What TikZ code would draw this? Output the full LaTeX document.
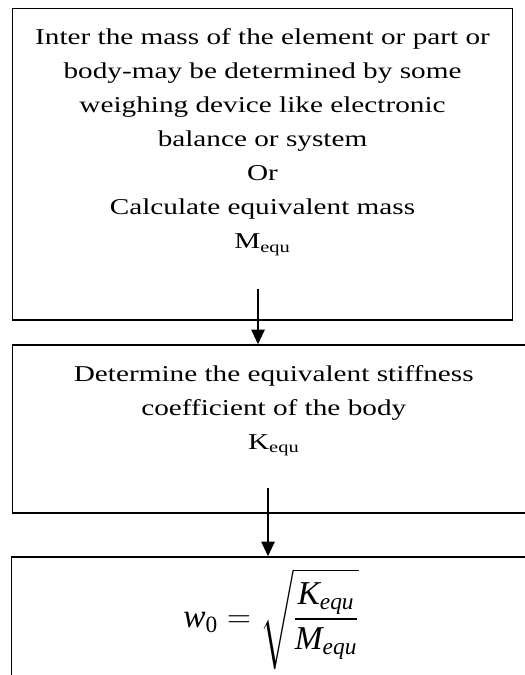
\documentclass[tikz,border=0pt]{standalone}
\usepackage{amsmath}
\usepackage{fontspec}
\setmainfont{Liberation Serif}[FakeStretch=1.29]
\newfontfamily\eqfont{Liberation Serif}
\usetikzlibrary{arrows.meta,positioning}
\newcommand{\ivar}[1]{\text{\eqfont\itshape #1}}

\begin{document}
\begin{tikzpicture}[
    x=0.75pt, y=-0.75pt,
    stage/.style={draw, line width=1.1pt, inner sep=0pt},
    info/.style={align=center, inner sep=0pt, font=\fontsize{17}{25.5}\selectfont},
    flow/.style={-{Triangle[width=10pt,length=11pt]}, line width=1.4pt}
]
\useasboundingbox (0,0) rectangle (525,675);

% Boxes
\node[stage, minimum width=375pt, minimum height=233.6pt] (mass) at (262.5,164.25) {};
\node[stage, minimum width=391.9pt, minimum height=126pt] (stiff) at (273.75,429) {};
\node[stage, minimum width=392.6pt, minimum height=150pt] (freq) at (273.25,657) {};

% Texts
\node[info, below=15.5pt of mass.north] (masstext) {Inter the mass of the element or part or\\
    body-may be determined by some\\
    weighing device like electronic\\
    balance or system\\
    Or\\
    Calculate equivalent mass\\
    M\textsubscript{equ}};
\node[info, below=15.5pt of stiff.north] (stifftext) {Determine the equivalent stiffness\\
    coefficient of the body\\
    K\textsubscript{equ}};
\node[inner sep=0pt, font=\fontsize{25}{30}\selectfont] (freqtext) at (271,619)
    {$\ivar{w}_{\text{\eqfont 0}} = \sqrt{\dfrac{\ivar{K}_{\ivar{equ}}}{\ivar{M}_{\ivar{equ}}}}$};

% Arrows
\coordinate (a1) at (258,289);
\coordinate (a2) at (268,488);
\draw[flow] (a1) -- (a1 |- stiff.north);
\draw[flow] (a2) -- (a2 |- freq.north);

\end{tikzpicture}
\end{document}
